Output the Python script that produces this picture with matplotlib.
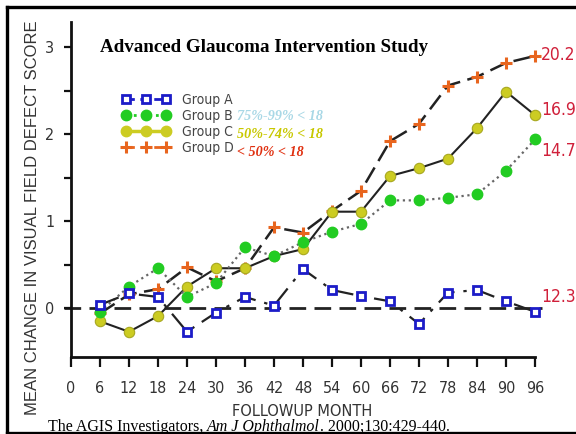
import matplotlib
matplotlib.use("Agg")
import matplotlib.pyplot as plt
from matplotlib.lines import Line2D
from matplotlib.patches import Rectangle
from matplotlib import font_manager as fm

# Follow-up months and mean change in visual field defect score per group
months = [6, 12, 18, 24, 30, 36, 42, 48, 54, 60, 66, 72, 78, 84, 90, 96]
group_a = [0.04, 0.17, 0.13, -0.27, -0.05, 0.13, 0.03, 0.45, 0.21, 0.14, 0.08, -0.18, 0.18, 0.21, 0.08, -0.04]
group_b = [-0.04, 0.25, 0.46, 0.13, 0.29, 0.70, 0.60, 0.76, 0.88, 0.97, 1.24, 1.24, 1.27, 1.31, 1.58, 1.94]
group_c = [-0.15, -0.27, -0.09, 0.25, 0.46, 0.46, 0.60, 0.68, 1.11, 1.11, 1.52, 1.61, 1.72, 2.07, 2.49, 2.22]
group_d = [-0.06, 0.16, 0.22, 0.47, 0.31, 0.46, 0.93, 0.87, 1.12, 1.35, 1.92, 2.12, 2.56, 2.66, 2.82, 2.90]

x_ticks = [0, 6, 12, 18, 24, 30, 36, 42, 48, 54, 60, 66, 72, 78, 84, 90, 96]
y_ticks = [0, 0.5, 1, 1.5, 2, 2.5, 3]
y_tick_labels = ["0", "", "1", "", "2", "", "3"]

group_names = ["Group A", "Group B", "Group C", "Group D"]
group_notes = ["", "75%-99% < 18", "50%-74% < 18", "< 50% < 18"]
end_values = ["12.3", "20.2", "16.9", "14.7"]

BLUE = "#1c1cc8"
GREEN = "#22cc22"
YELLOW = "#cccc22"
ORANGE = "#e8651e"
RED = "#d0203a"
GRAY = "#333333"

sans = ["Liberation Sans", "DejaVu Sans"]
serif = ["Liberation Serif", "DejaVu Serif"]

# pick a narrow sans face if one is installed
narrow_path = None
for f in fm.fontManager.ttflist:
    nm = f.name.lower()
    if ("narrow" in nm or "condensed" in nm or str(f.stretch) in ("condensed", "semi-condensed", "75", "87"))\
            and "serif" not in nm and "mono" not in nm and f.style == "normal" and f.weight in (400, "normal", "regular"):
        narrow_path = f.fname
        break


def nprops(size):
    if narrow_path:
        return fm.FontProperties(fname=narrow_path, size=size)
    return fm.FontProperties(family=sans, size=size * 0.9)


W, H = 576, 434
fig = plt.figure(figsize=(W / 100, H / 100), dpi=100)


def fx(px):
    return px / W


def fy(py):
    return 1 - py / H


ax = fig.add_axes([fx(71), fy(357), fx(535) - fx(71), fy(22) - fy(357)])
ax.set_xlim(0, 96)
ax.set_ylim(-0.56, 3.29)

for s in ("top", "right"):
    ax.spines[s].set_visible(False)
for s in ("left", "bottom"):
    ax.spines[s].set_linewidth(2)
    ax.spines[s].set_color("#111111")

ax.set_xticks(x_ticks)
ax.set_xticklabels([str(t) for t in x_ticks], fontproperties=nprops(11.5), color=GRAY)
ax.set_yticks(y_ticks)
ax.set_yticklabels(y_tick_labels, fontproperties=nprops(11.5), color=GRAY)
ax.tick_params(axis="x", direction="out", length=7, width=1.6, pad=10, color="#111111")
ax.tick_params(axis="y", direction="out", length=5, width=1.6, pad=7, color="#111111")

# zero reference line
ax.plot([-1.5, 97.5], [0, 0], color="#222222", lw=2, dashes=(6, 3), clip_on=False, zorder=1)

# Group D: dashed black line, orange plus markers
ax.plot(months, group_d, color="#222222", lw=1.8, dashes=(7, 3), zorder=2, clip_on=False,
        marker="+", ms=8, mew=2.2, mec=ORANGE)
# Group C: solid black line, yellow circles
ax.plot(months, group_c, color="#222222", lw=1.5, zorder=3, clip_on=False,
        marker="o", ms=7.5, mfc=YELLOW, mec="#a8a820", mew=0.8)
# Group B: dotted gray line, green circles
ax.plot(months, group_b, color="#666666", lw=1.6, ls=":", zorder=4, clip_on=False,
        marker="o", ms=7.5, mfc=GREEN, mec=GREEN)
# Group A: dash-dot black line, open blue squares
ax.plot(months, group_a, color="#222222", lw=1.6, dashes=(9, 4, 1.5, 4), zorder=5, clip_on=False,
        marker="s", ms=6, mfc="white", mec=BLUE, mew=2)

# legend with coloured sample lines
handles = [
    Line2D([], [], color=BLUE, lw=2, dashes=(3, 2), marker="s", ms=5.5, mfc="white", mec=BLUE, mew=2),
    Line2D([], [], color=GREEN, lw=2, ls=":", marker="o", ms=7.5, mfc=GREEN, mec=GREEN),
    Line2D([], [], color=YELLOW, lw=2.5, marker="o", ms=7.5, mfc=YELLOW, mec=YELLOW),
    Line2D([], [], color=ORANGE, lw=2, dashes=(3, 2), marker="+", ms=8.5, mew=2.2, mec=ORANGE),
]
leg = ax.legend(handles, group_names, numpoints=3, frameon=False, loc="upper left",
                bbox_to_anchor=(fx(122), fy(93)), bbox_transform=fig.transFigure,
                handlelength=3.5, handletextpad=0.85, labelspacing=0.14, borderpad=0,
                borderaxespad=0, prop=nprops(10))
for t in leg.get_texts():
    t.set_color("#444444")

note_colors = [None, "#a9d8e6", "#c8c800", "#e03010"]
note_y = [None, 117, 134, 152]
for note, c, yy in zip(group_notes, note_colors, note_y):
    if note:
        fig.text(fx(237), fy(yy), note, color=c, family=serif, style="italic",
                 weight="bold", fontsize=10.2, va="center", ha="left")

# end-of-study values
end_y = [297, 55, 110, 151]
for v, yy in zip(end_values, end_y):
    fig.text(fx(541), fy(yy), v, color=RED, fontproperties=nprops(12.5), va="center", ha="left")

fig.text(fx(100), fy(48), "Advanced Glaucoma Intervention Study", family=serif,
         weight="bold", fontsize=13.7, va="center", ha="left", color="black")

fig.text(fx(33), fy(218), "MEAN CHANGE IN VISUAL FIELD DEFECT SCORE", rotation=90,
         family=sans, fontsize=12, color=GRAY, va="center", ha="center")
fig.text(fx(302), fy(412), "FOLLOWUP MONTH", fontproperties=nprops(11.7), color=GRAY,
         va="center", ha="center")

r = fig.canvas.get_renderer()
t1 = fig.text(fx(48), fy(431), "The AGIS Investigators,", family=serif, fontsize=11.5,
              color="black", va="baseline", ha="left")
bb = t1.get_window_extent(renderer=r)
t2 = fig.text((bb.x1 + 3) / W, fy(431), "Am J Ophthalmol", family=serif, style="italic",
              fontsize=11.5, color="black", va="baseline", ha="left")
bb2 = t2.get_window_extent(renderer=r)
fig.text((bb2.x1 + 1) / W, fy(431), ". 2000;130:429-440.", family=serif, fontsize=11.5,
         color="black", va="baseline", ha="left")

# frame around the slide
fig.patches.append(Rectangle((0, 0), 1, fy(432), transform=fig.transFigure,
                             facecolor="white", edgecolor="none", zorder=10))
for (x0, y0, x1, y1) in [(7, 7, 7, 433), (7, 7, 576, 7), (7, 433, 576, 433)]:
    fig.add_artist(Line2D([fx(x0), fx(x1)], [fy(y0), fy(y1)], transform=fig.transFigure,
                          color="black", lw=2.4, zorder=11))

fig.savefig("out.png", dpi=100)
